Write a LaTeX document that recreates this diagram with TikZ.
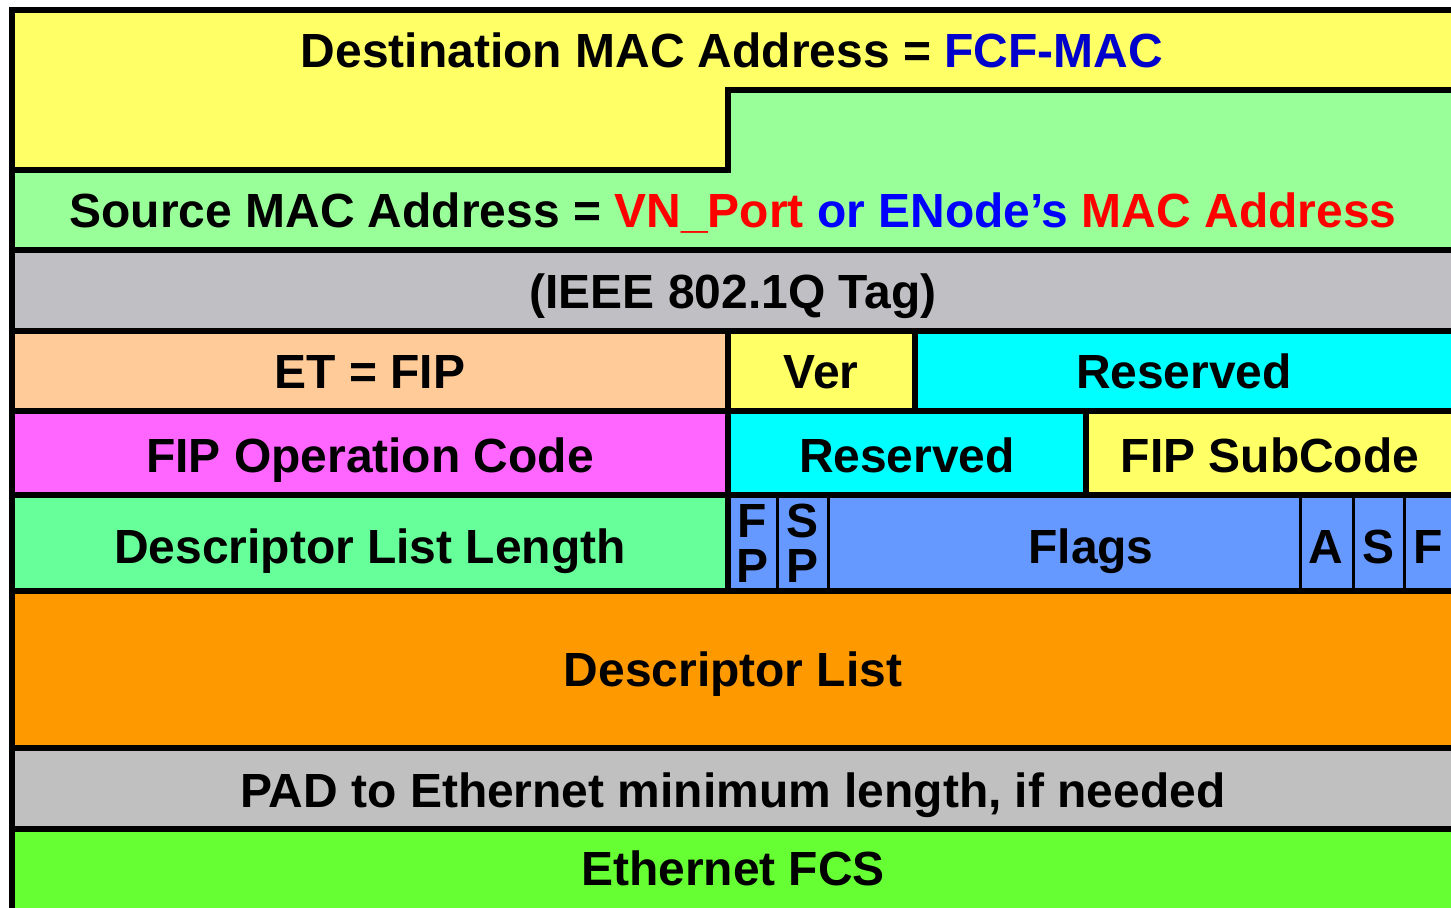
\documentclass[tikz,border=0pt]{standalone}
\usepackage{fontspec}
\setmainfont{Liberation Sans}
\definecolor{addryellow}{HTML}{FFFF66}
\definecolor{srcgreen}{HTML}{99FF99}
\definecolor{taggray}{HTML}{C0BFC4}
\definecolor{etpeach}{HTML}{FFCC99}
\definecolor{rescyan}{HTML}{00FFFF}
\definecolor{opmagenta}{HTML}{FF66FF}
\definecolor{lengreen}{HTML}{66FF99}
\definecolor{flagblue}{HTML}{6699FF}
\definecolor{listorange}{HTML}{FF9900}
\definecolor{padgray}{HTML}{C0C0C0}
\definecolor{fcsgreen}{HTML}{66FF33}
\definecolor{fcfblue}{HTML}{0000CC}
\definecolor{enodeblue}{HTML}{0000FF}
\definecolor{vnred}{HTML}{FF0000}
\begin{document}
\begin{tikzpicture}[x=0.02cm,y=-0.02cm,line width=3.1pt,
  lbl/.style={font=\fontsize{27.3}{25}\selectfont\bfseries,inner sep=0pt,anchor=base}]
\useasboundingbox (0,0) rectangle (1451,907);
\fill[white] (0,0) rectangle (1451,907);
% MAC addresses
\draw[fill=addryellow] (12,10) -- (1470,10) -- (1470,90) -- (728,90) -- (728,170) -- (12,170) -- cycle;
\draw[fill=srcgreen] (728,90) -- (1470,90) -- (1470,250) -- (12,250) -- (12,170) -- (728,170) -- cycle;
% full width rows
\draw[fill=taggray] (12,250) rectangle (1470,331);
\draw[fill=listorange] (12,591) rectangle (1470,748);
\draw[fill=padgray] (12,748) rectangle (1470,829);
\draw[fill=fcsgreen] (12,829) rectangle (1470,915);
% split rows
\draw[fill=etpeach] (12,331) rectangle (728,411);
\draw[fill=addryellow] (728,331) rectangle (915,411);
\draw[fill=rescyan] (915,331) rectangle (1470,411);
\draw[fill=opmagenta] (12,411) rectangle (728,495);
\draw[fill=rescyan] (728,411) rectangle (1086,495);
\draw[fill=addryellow] (1086,411) rectangle (1470,495);
\draw[fill=lengreen] (12,495) rectangle (728,591);
\draw[fill=flagblue] (728,495) rectangle (1470,591);
\foreach \x in {777,828,1300,1353,1404}
{
	\draw[line width=1.7pt] (\x,495) -- (\x,591);
}
\draw (728,495) rectangle (1470,591);
% labels
\node[lbl] (dst) at (732,67) {Destination MAC Address = \textcolor{fcfblue}{FCF-MAC}};
\node[lbl] (src) at (733,227) {Source MAC Address = \textcolor{vnred}{VN\_Port} \textcolor{enodeblue}{or ENode’s} \textcolor{vnred}{MAC Address}};
\node[lbl] (tag) at (733,308) {(IEEE 802.1Q Tag)};
\node[lbl] (et) at (370,388) {ET = FIP};
\node[lbl] (ver) at (821,388) {Ver};
\node[lbl] (res1) at (1184,388) {Reserved};
\node[lbl] (opcode) at (370,472) {FIP Operation Code};
\node[lbl] (res2) at (907,472) {Reserved};
\node[lbl] (subcode) at (1270,472) {FIP SubCode};
\node[lbl] (dlen) at (370,563) {Descriptor List Length};
\node[lbl] (fpf) at (752,537) {F};
\node[lbl] (fpp) at (752,582) {P};
\node[lbl] (sps) at (802,537) {S};
\node[lbl] (spp) at (802,582) {P};
\node[lbl] (flags) at (1091,563) {Flags};
\node[lbl] (fa) at (1326,563) {A};
\node[lbl] (fs) at (1378,563) {S};
\node[lbl] (ff) at (1428,563) {F};
\node[lbl] (dlist) at (733,686) {Descriptor List};
\node[lbl] (pad) at (733,807) {PAD to Ethernet minimum length, if needed};
\node[lbl] (fcs) at (733,885) {Ethernet FCS};
\end{tikzpicture}
\end{document}
